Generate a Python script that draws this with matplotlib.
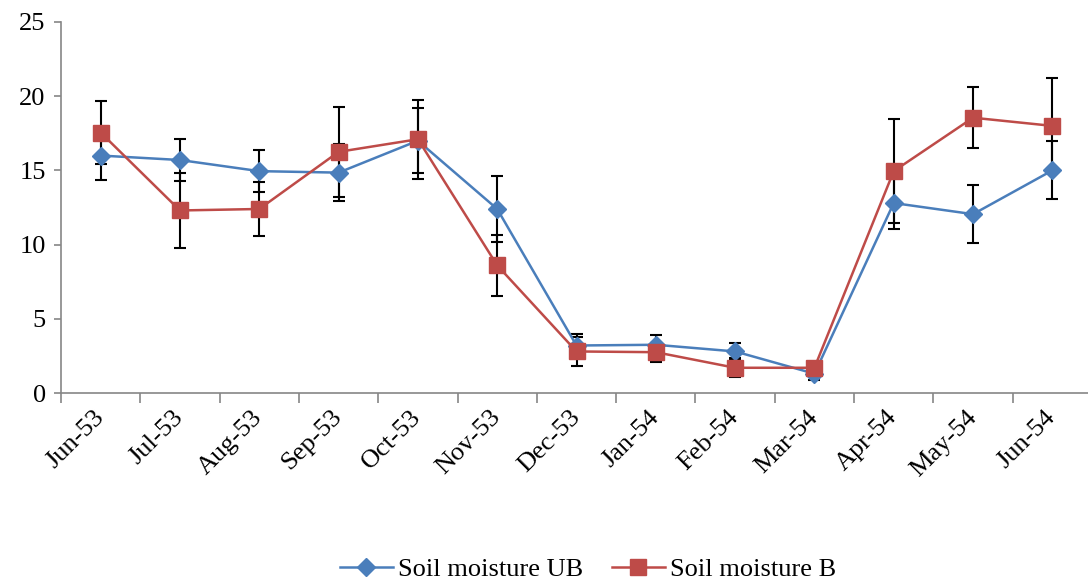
import matplotlib
matplotlib.use("Agg")
import matplotlib.pyplot as plt
import numpy as np

# data
months = ["Jun-53", "Jul-53", "Aug-53", "Sep-53", "Oct-53", "Nov-53", "Dec-53",
          "Jan-54", "Feb-54", "Mar-54", "Apr-54", "May-54", "Jun-54"]
ub = [16.0, 15.7, 14.95, 14.85, 17.0, 12.4, 3.2, 3.25, 2.8, 1.3, 12.8, 12.05, 15.0]
ub_err = [1.65, 1.4, 1.4, 1.9, 2.2, 2.2, 0.75, 0.65, 0.6, 0.45, 1.75, 1.95, 1.95]
b = [17.55, 12.3, 12.4, 16.25, 17.1, 8.6, 2.8, 2.75, 1.7, 1.7, 14.95, 18.55, 18.0]
b_err = [2.1, 2.55, 1.8, 3.05, 2.65, 2.05, 1.0, 0.65, 0.65, 0.3, 3.5, 2.05, 3.2]

plt.rcParams['font.family'] = ['Liberation Serif', 'DejaVu Serif']
fs = 19
grey = '#868686'

fig = plt.figure(figsize=(10.88, 5.85), dpi=100)
#plot area runs slightly past the right edge, as in the original
ax = fig.add_axes([61 / 1088, 1 - 393 / 585, 1031 / 1088, 371 / 585])

x = np.arange(len(months))

#error bars under the markers
ax.errorbar(x, ub, yerr=ub_err, fmt='none', ecolor='black', elinewidth=1.5,
            capsize=4.5, capthick=1.5, zorder=1)
ax.errorbar(x, b, yerr=b_err, fmt='none', ecolor='black', elinewidth=1.5,
            capsize=4.5, capthick=1.5, zorder=1)

ax.plot(x, ub, color='#4A7EBB', lw=1.8, marker='D', markersize=9.5,
        label='Soil moisture UB', zorder=2)
ax.plot(x, b, color='#BE4B48', lw=1.8, marker='s', markersize=11,
        label='Soil moisture B', zorder=3)

ax.set_xlim(-0.5, len(months) - 0.5)
ax.set_ylim(0, 25)
ax.set_yticks(range(0, 26, 5))

ax.set_xticks(x)
ax.set_xticklabels(months, rotation=45, ha='right', va='center',
                   rotation_mode='anchor')
ax.set_xticks(np.arange(-0.5, len(months), 1), minor=True)
ax.tick_params(axis='x', which='major', length=0, pad=15, labelsize=fs)
ax.tick_params(axis='x', which='minor', length=7, width=1.2, color=grey)
ax.tick_params(axis='y', length=5, width=1.2, color=grey, labelsize=fs, pad=6)

for s in ['top', 'right']:
    ax.spines[s].set_visible(False)
for s in ['left', 'bottom']:
    ax.spines[s].set_color(grey)
    ax.spines[s].set_linewidth(1.2)

fig.legend(loc='center', bbox_to_anchor=(588 / 1088, 1 - 569 / 585), ncol=2,
           frameon=False, fontsize=fs, handlelength=2.0, handletextpad=0.2,
           columnspacing=1.1)

plt.savefig('out.png', dpi=100)
